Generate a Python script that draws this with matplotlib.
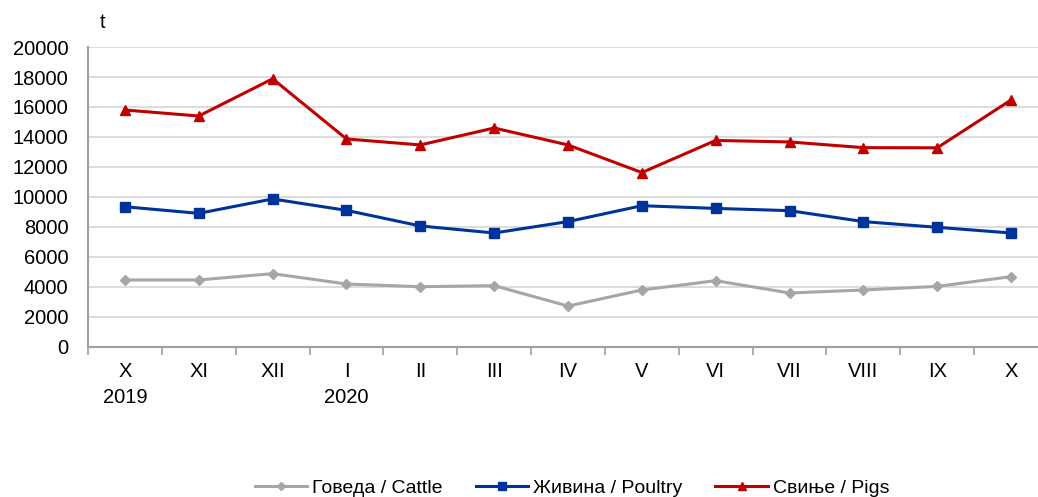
import numpy as np
import matplotlib.pyplot as plt

plt.rcParams['font.family'] = ['Liberation Sans', 'DejaVu Sans']

months = ['X\n2019', 'XI', 'XII', 'I\n2020', 'II', 'III', 'IV', 'V', 'VI', 'VII', 'VIII', 'IX', 'X']
cattle = [4470, 4470, 4890, 4200, 4020, 4090, 2730, 3800, 4420, 3600, 3800, 4040, 4690]
poultry = [9350, 8910, 9870, 9110, 8070, 7600, 8360, 9420, 9240, 9090, 8360, 7980, 7600]
pigs = [15800, 15400, 17880, 13870, 13470, 14600, 13470, 11630, 13770, 13670, 13290, 13280, 16470]

fig = plt.figure(figsize=(10.38, 4.97), dpi=100)
# axes runs a bit past the right edge, as in the original
ax = fig.add_axes([88/1038, 150/497, 960/1038, 300/497])

x = np.arange(len(months))
ax.plot(x, cattle, color='#A6A6A6', lw=2.2, marker='D', ms=5, label='Говеда / Cattle')
ax.plot(x, poultry, color='#003399', lw=2.2, marker='s', ms=6.5, label='Живина / Poultry')
ax.plot(x, pigs, color='#C00000', lw=2.2, marker='^', ms=7, label='Свиње / Pigs')

ax.set_ylim(0, 20000)
ax.set_yticks(np.arange(0, 20001, 2000))
ax.set_xlim(-0.5, len(months) - 0.5)
ax.set_xticks(x)
ax.set_xticklabels(months, fontsize=14.5, linespacing=1.45)
ax.set_xticks(np.arange(-0.5, len(months), 1), minor=True)
ax.tick_params(axis='x', which='major', length=0, pad=11)
ax.tick_params(axis='x', which='minor', length=6, color='#A0A0A0', width=1.2)
ax.tick_params(axis='y', length=0, labelsize=14.5, pad=14)
for lab in ax.get_xticklabels():
    lab.set_verticalalignment('top')
    lab.set_multialignment('center')

ax.grid(axis='y', color='#D9D9D9', lw=1.3)
ax.set_axisbelow(True)
for s in ['top', 'right']:
    ax.spines[s].set_visible(False)
for s in ['left', 'bottom']:
    ax.spines[s].set_color('#A0A0A0')
    ax.spines[s].set_linewidth(1.5)

fig.text(103/1038, 1 - 22/497, 't', fontsize=14.5, ha='center', va='center')

fig.legend(loc='center', bbox_to_anchor=(572/1038, 1 - 488/497), ncol=3, frameon=False,
           fontsize=14, handlelength=2.7, columnspacing=1.7, handletextpad=0.25,
           markerscale=0.8)

fig.savefig('out.png', dpi=100)
